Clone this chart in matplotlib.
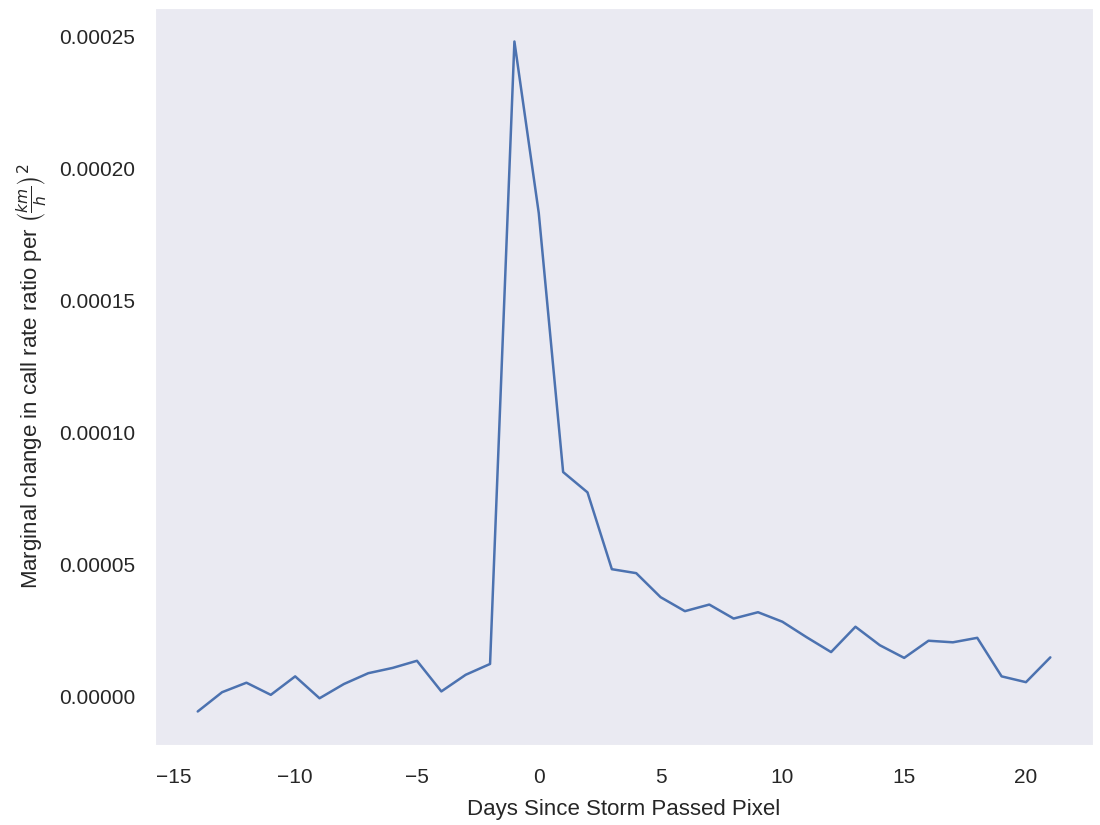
import matplotlib
matplotlib.use("Agg")
import matplotlib.pyplot as plt
import seaborn as sns

# days relative to the storm passing the pixel
days = list(range(-14, 22))

# marginal change in call rate ratio
marginal_change = [
    -0.0000058, 0.0000015, 0.0000051, 0.0000005, 0.0000075, -0.0000008,
    0.0000046, 0.0000087, 0.0000107, 0.0000134, 0.0000018, 0.0000081,
    0.0000122, 0.000248, 0.000183, 0.0000849, 0.0000772, 0.0000481,
    0.0000466, 0.0000375, 0.0000322, 0.0000347, 0.0000294, 0.0000318,
    0.0000282, 0.0000223, 0.0000167, 0.0000263, 0.0000193, 0.0000145,
    0.0000210, 0.0000204, 0.0000221, 0.0000075, 0.0000053, 0.0000147,
]

sns.set_style("dark")
plt.rcParams['font.family'] = ['Liberation Sans', 'DejaVu Sans']

fig, ax = plt.subplots(figsize=(11, 8.25), dpi=100)
fig.subplots_adjust(left=0.141, right=0.9936, top=0.9903, bottom=0.097)

ax.plot(days, marginal_change, color="#4c72b0", linewidth=1.8)

ax.set_xlabel("Days Since Storm Passed Pixel", fontsize=16, labelpad=9)
ax.set_ylabel(r"Marginal change in call rate ratio per $\left(\frac{km}{h}\right)^2$",
              fontsize=16, labelpad=7)
ax.tick_params(labelsize=15)
ax.tick_params(axis='x', pad=13)
ax.tick_params(axis='y', pad=11)

fig.savefig("out.png")
